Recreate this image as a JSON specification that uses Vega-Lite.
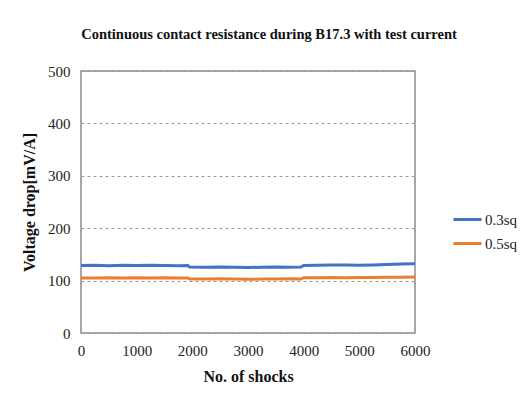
{
  "$schema": "https://vega.github.io/schema/vega-lite/v6.json",
  "autosize": "none",
  "width": 334,
  "height": 262,
  "padding": {"left": 81, "top": 71, "right": 108, "bottom": 80},
  "background": "white",
  "title": {
    "text": "Continuous  contact resistance during  B17.3 with test current",
    "font": "Liberation Serif",
    "fontSize": 14.5,
    "fontWeight": "bold",
    "color": "#111",
    "anchor": "middle",
    "dx": 21,
    "offset": 22
  },
  "config": {
    "view": {"stroke": "#8c8c8c", "strokeWidth": 1.5},
    "axis": {
      "labelFont": "serif",
      "labelFontSize": 15,
      "labelColor": "#222",
      "titleFont": "Liberation Serif",
      "titleFontSize": 16,
      "titleFontWeight": "bold",
      "titleColor": "#111",
      "ticks": false,
      "domain": false
    }
  },
  "data": {
    "values": [
      {"shocks": 0, "v": 129, "s": "0.3sq"},
      {"shocks": 250, "v": 129.5, "s": "0.3sq"},
      {"shocks": 500, "v": 128.5, "s": "0.3sq"},
      {"shocks": 750, "v": 129.5, "s": "0.3sq"},
      {"shocks": 1000, "v": 129, "s": "0.3sq"},
      {"shocks": 1250, "v": 129.5, "s": "0.3sq"},
      {"shocks": 1500, "v": 129, "s": "0.3sq"},
      {"shocks": 1750, "v": 128.5, "s": "0.3sq"},
      {"shocks": 1920, "v": 129, "s": "0.3sq"},
      {"shocks": 1950, "v": 126, "s": "0.3sq"},
      {"shocks": 2250, "v": 125.5, "s": "0.3sq"},
      {"shocks": 2500, "v": 126, "s": "0.3sq"},
      {"shocks": 2750, "v": 125.5, "s": "0.3sq"},
      {"shocks": 3000, "v": 125, "s": "0.3sq"},
      {"shocks": 3250, "v": 125.5, "s": "0.3sq"},
      {"shocks": 3500, "v": 126, "s": "0.3sq"},
      {"shocks": 3750, "v": 125.5, "s": "0.3sq"},
      {"shocks": 3950, "v": 126, "s": "0.3sq"},
      {"shocks": 4000, "v": 129, "s": "0.3sq"},
      {"shocks": 4250, "v": 129.5, "s": "0.3sq"},
      {"shocks": 4500, "v": 130, "s": "0.3sq"},
      {"shocks": 4750, "v": 130, "s": "0.3sq"},
      {"shocks": 5000, "v": 129.5, "s": "0.3sq"},
      {"shocks": 5250, "v": 130, "s": "0.3sq"},
      {"shocks": 5500, "v": 130.5, "s": "0.3sq"},
      {"shocks": 5750, "v": 131.5, "s": "0.3sq"},
      {"shocks": 6000, "v": 132, "s": "0.3sq"},
      {"shocks": 0, "v": 105, "s": "0.5sq"},
      {"shocks": 250, "v": 105, "s": "0.5sq"},
      {"shocks": 500, "v": 105.5, "s": "0.5sq"},
      {"shocks": 750, "v": 105, "s": "0.5sq"},
      {"shocks": 1000, "v": 105.5, "s": "0.5sq"},
      {"shocks": 1250, "v": 105, "s": "0.5sq"},
      {"shocks": 1500, "v": 105.5, "s": "0.5sq"},
      {"shocks": 1750, "v": 105, "s": "0.5sq"},
      {"shocks": 1920, "v": 105, "s": "0.5sq"},
      {"shocks": 1950, "v": 103, "s": "0.5sq"},
      {"shocks": 2250, "v": 103, "s": "0.5sq"},
      {"shocks": 2500, "v": 103.5, "s": "0.5sq"},
      {"shocks": 2750, "v": 103, "s": "0.5sq"},
      {"shocks": 3000, "v": 102.5, "s": "0.5sq"},
      {"shocks": 3250, "v": 103, "s": "0.5sq"},
      {"shocks": 3500, "v": 103, "s": "0.5sq"},
      {"shocks": 3750, "v": 103.5, "s": "0.5sq"},
      {"shocks": 3950, "v": 103, "s": "0.5sq"},
      {"shocks": 4000, "v": 105.5, "s": "0.5sq"},
      {"shocks": 4250, "v": 105.5, "s": "0.5sq"},
      {"shocks": 4500, "v": 106, "s": "0.5sq"},
      {"shocks": 4750, "v": 105.5, "s": "0.5sq"},
      {"shocks": 5000, "v": 106, "s": "0.5sq"},
      {"shocks": 5250, "v": 106, "s": "0.5sq"},
      {"shocks": 5500, "v": 106.5, "s": "0.5sq"},
      {"shocks": 5750, "v": 106.5, "s": "0.5sq"},
      {"shocks": 6000, "v": 107, "s": "0.5sq"}
    ]
  },
  "mark": {"type": "line", "strokeWidth": 3, "interpolate": "linear"},
  "encoding": {
    "x": {
      "field": "shocks",
      "type": "quantitative",
      "scale": {"domain": [0, 6000], "nice": false},
      "axis": {
        "title": "No. of shocks",
        "values": [0, 1000, 2000, 3000, 4000, 5000, 6000],
        "format": "d",
        "grid": false,
        "labelFlush": false,
        "labelPadding": 10,
        "titlePadding": 10
      }
    },
    "y": {
      "field": "v",
      "type": "quantitative",
      "scale": {"domain": [0, 500], "nice": false},
      "axis": {
        "title": "Voltage drop[mV/A]",
        "values": [0, 100, 200, 300, 400, 500],
        "format": "d",
        "grid": true,
        "gridColor": "#9a9a9a",
        "gridDash": [3, 3],
        "gridWidth": 1,
        "labelPadding": 11,
        "titlePadding": 10
      }
    },
    "color": {
      "field": "s",
      "type": "nominal",
      "scale": {"domain": ["0.3sq", "0.5sq"], "range": ["#4472C4", "#ED7D31"]},
      "legend": {
        "title": null,
        "orient": "none",
        "legendX": 371,
        "legendY": 133,
        "symbolType": "stroke",
        "symbolSize": 784,
        "symbolStrokeWidth": 3,
        "rowPadding": -6,
        "labelFont": "serif",
        "labelFontSize": 15,
        "labelColor": "#222",
        "labelOffset": 2
      }
    }
  }
}
